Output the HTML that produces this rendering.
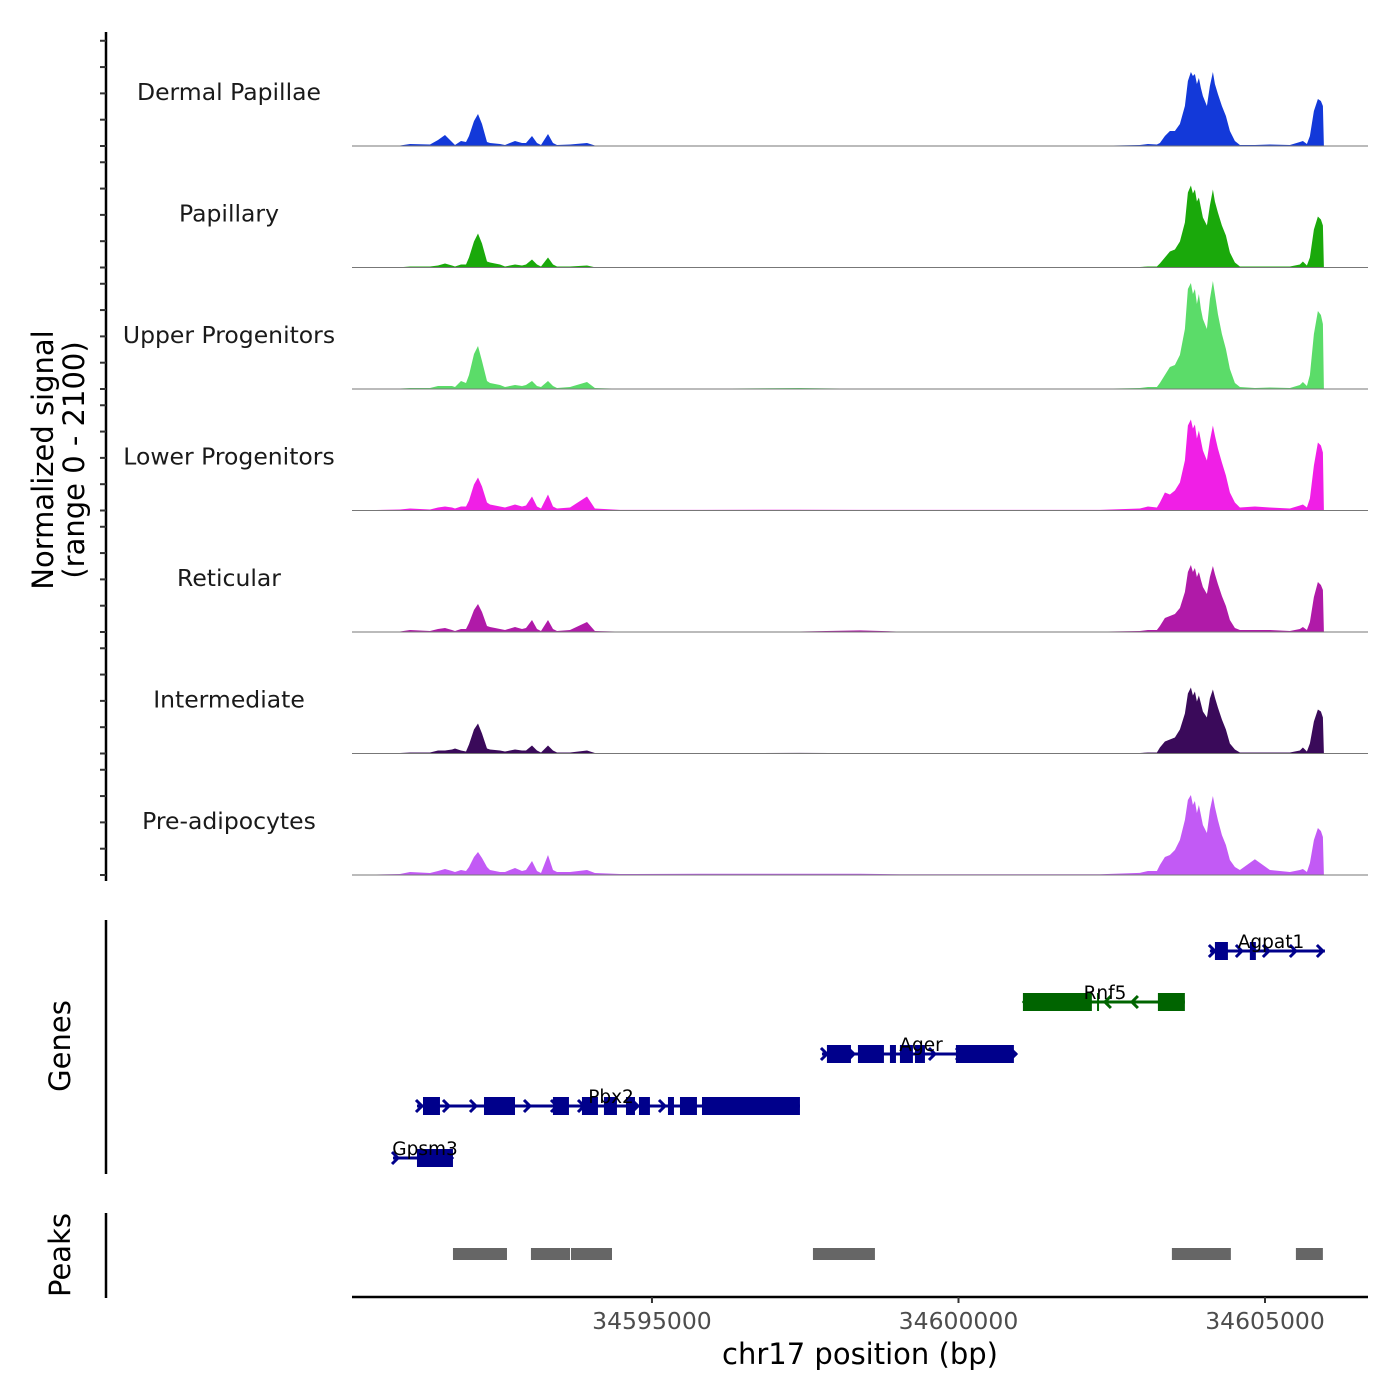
<!DOCTYPE html>
<html><head><meta charset="utf-8"><style>
html,body{margin:0;padding:0;background:#fff;}
svg{display:block;font-family:"DejaVu Sans","Liberation Sans",sans-serif;}
</style></head><body>
<svg id="chart" width="1400" height="1400" viewBox="0 0 1400 1400" xmlns="http://www.w3.org/2000/svg">
<g id="tracks"></g>
<g id="genes"></g>
<g id="peaks"></g>
<g id="axes"></g>
<text transform="translate(53,460) rotate(-90)" text-anchor="middle" font-size="29" fill="#000">Normalized signal</text>
<text transform="translate(84,460) rotate(-90)" text-anchor="middle" font-size="29" fill="#000">(range 0 - 2100)</text>
<text transform="translate(70,1046) rotate(-90)" text-anchor="middle" font-size="29" fill="#000">Genes</text>
<text transform="translate(70,1255) rotate(-90)" text-anchor="middle" font-size="29" fill="#000">Peaks</text>
<text x="860" y="1364" text-anchor="middle" font-size="29" fill="#000">chr17 position (bp)</text>
</svg>
<script>
const xDomain = [34590107, 34606680];
const xTicks = [34595000, 34600000, 34605000];
const yMax = 2100;
const yTicks = [0, 500, 1000, 1500, 2000];
const trackNames = ["Dermal Papillae","Papillary","Upper Progenitors","Lower Progenitors","Reticular","Intermediate","Pre-adipocytes"];
const trackColors = ["#1339d9","#1aa90b","#5bdc69","#f01fe6","#b01aa8","#3a0a5a","#c25af5"];
const positions = [34590107,34590890,34591053,34591379,34591510,34591624,34591738,34591787,34591885,34591966,
34592015,34592097,34592162,34592227,34592309,34592358,34592521,34592602,34592766,34592880,
34592945,34593043,34593124,34593190,34593304,34593385,34593451,34593663,34593940,34594070,
34594478,34595783,34597414,34598392,34599045,34600676,34602307,34602959,34603090,34603237,
34603285,34603367,34603449,34603530,34603612,34603693,34603742,34603791,34603824,34603856,
34603889,34603922,34603954,34603987,34604052,34604101,34604150,34604183,34604231,34604297,
34604362,34604427,34604509,34604590,34604835,34605080,34605406,34605569,34605618,34605683,
34605732,34605797,34605862,34605911,34605944,34605960];
const dermalPapillae = [0,10,38,29,114,209,76,19,95,76,190,475,608,418,76,57,38,19,95,57,57,190,57,19,228,57,19,29,57,10,6,6,10,6,6,6,6,19,38,29,57,190,285,285,418,760,1235,1406,1330,1368,1178,1292,1102,950,760,1140,1406,1178,988,760,570,285,95,19,19,29,19,76,95,38,190,665,893,855,760,0];
const papillary = [0,6,19,19,38,76,38,19,57,57,190,494,646,456,114,95,57,19,57,38,57,152,57,19,190,57,19,19,38,6,4,4,10,6,4,6,4,10,19,19,76,190,304,342,494,855,1425,1558,1406,1482,1254,1330,1140,950,798,1178,1482,1254,1045,798,608,285,95,19,19,19,19,57,114,38,190,722,969,912,798,0];
const upperProgenitors = [0,10,19,19,57,57,57,38,152,114,266,665,817,532,152,114,76,38,76,57,76,152,57,38,152,57,19,38,133,19,6,6,19,6,6,6,6,19,38,38,114,266,418,456,646,1140,1900,2014,1805,1900,1615,1805,1520,1330,1140,1710,2052,1805,1425,1045,760,380,114,38,19,29,19,76,133,57,266,1045,1482,1406,1235,0];
const lowerProgenitors = [0,19,38,19,57,76,57,38,76,76,190,494,627,456,152,114,76,57,114,76,95,266,76,38,304,76,38,57,266,38,12,12,15,12,12,12,12,38,76,57,152,342,304,380,532,950,1615,1729,1558,1634,1368,1520,1330,1140,950,1330,1615,1425,1178,912,665,342,152,57,76,57,38,95,114,57,228,855,1292,1235,1102,0];
const reticular = [0,10,38,19,57,76,38,19,57,57,171,418,532,380,114,95,57,38,95,57,76,228,57,19,228,57,19,38,190,19,8,8,10,30,8,8,8,19,38,38,114,266,304,342,456,760,1140,1273,1140,1216,1045,1140,988,855,722,1045,1254,1102,912,684,494,228,76,38,38,38,19,57,95,38,190,665,950,893,798,0];
const intermediate = [0,10,19,19,57,57,76,95,57,38,171,456,570,380,95,76,57,38,76,57,57,152,57,19,152,57,19,19,57,10,6,6,12,8,6,6,6,10,19,19,114,228,266,304,456,760,1140,1254,1102,1178,988,1102,950,798,684,1045,1216,1064,874,646,456,190,76,19,19,19,19,57,114,38,190,608,836,798,684,0];
const preAdipocytes = [0,19,57,38,76,114,76,57,95,76,152,342,437,323,152,95,57,57,133,76,95,266,76,38,380,95,57,57,95,38,19,22,25,22,15,15,15,40,76,76,190,342,380,475,665,1045,1425,1520,1330,1406,1178,1330,1140,950,798,1235,1501,1292,1045,760,570,285,152,95,300,95,57,95,114,57,228,665,893,836,722,0];
const trackValues = [dermalPapillae,papillary,upperProgenitors,lowerProgenitors,reticular,intermediate,preAdipocytes];

const geneNames = ["Agpat1","Rnf5","Ager","Pbx2","Gpsm3"];
const geneStarts = [34604101,34601051,34597773,34591167,34590776];
const geneEnds = [34605977,34603693,34600953,34597414,34591754];
const geneStrands = ["+","-","+","+","+"];
const geneExons = [
 [[34604183,34604395],[34604753,34604851]],
 [[34601051,34602176],[34602260,34602290],[34603253,34603693]],
 [[34597854,34598246],[34598360,34598784],[34598882,34598980],[34599045,34599257],[34599290,34599453],[34599958,34600904]],
 [[34591265,34591542],[34592260,34592766],[34593385,34593646],[34593858,34594119],[34594217,34594429],[34594576,34594723],[34594788,34594967],[34595261,34595359],[34595457,34595734],[34595816,34597414]],
 [[34591167,34591754]]
];
const peakStarts = [34591754,34593026,34593679,34597626,34603481,34605504];
const peakEnds = [34592635,34593663,34594348,34598637,34604443,34605944];

const NS="http://www.w3.org/2000/svg";
const X0=352,X1=1368;
function xs(bp){return X0+(bp-xDomain[0])/(xDomain[1]-xDomain[0])*(X1-X0);}
const base0=146, trackStep=121.5, trackH=110.5;
function ys(v,i){return base0+i*trackStep - v/yMax*trackH;}
function mk(tag,attrs,parent){const e=document.createElementNS(NS,tag);for(const k in attrs)e.setAttribute(k,attrs[k]);parent.appendChild(e);return e;}

const gT=document.getElementById('tracks');
trackValues.forEach((vals,i)=>{
  const b=base0+i*trackStep;
  let d="M"+xs(positions[0])+","+b;
  positions.forEach((p,j)=>{d+=" L"+xs(p).toFixed(1)+","+ys(vals[j],i).toFixed(1);});
  d+=" L"+xs(positions[positions.length-1]).toFixed(1)+","+b+" Z";
  const a=mk('path',{d:d,fill:trackColors[i],stroke:'none'},gT);
  
  
  const l=mk('line',{x1:X0,x2:X1,y1:b,y2:b,stroke:'#777',"stroke-width":1},gT);
  
  
  const t=mk('text',{x:229,y:b-46,"text-anchor":"middle","font-size":23.5,fill:'#1a1a1a'},gT);
  t.textContent=trackNames[i];
  
  
});

const gG=document.getElementById('genes');
const rowY=[951,1002,1054,1106,1158];
const lblX=[1271,1105,921,611,425];
geneNames.forEach((n,i)=>{
  const col=geneStrands[i]==='+'?'#00008b':'#006400';
  const y=rowY[i], xa=xs(geneStarts[i]), xb=xs(geneEnds[i]);
  const g=mk('g',{},gG);
  
  
  mk('line',{x1:xa,x2:xb,y1:y,y2:y,stroke:col,"stroke-width":3},g);
  for(let x=xa+3;x<=xb-2;x+=27){
    const dir=geneStrands[i]==='+'?1:-1;
    mk('polyline',{points:(x-4*dir)+","+(y-6)+" "+(x+2*dir)+","+y+" "+(x-4*dir)+","+(y+6),fill:'none',stroke:col,"stroke-width":3},g);
  }
  geneExons[i].forEach(e=>{
    const r=mk('rect',{x:xs(e[0]),y:y-9,width:Math.max(2,xs(e[1])-xs(e[0])),height:18,fill:col},g);
    
    
  });
  const t=mk('text',{x:lblX[i],y:y-3,"text-anchor":"middle","font-size":18.5,fill:'#000'},g);
  t.textContent=n;
  
  
});

const gP=document.getElementById('peaks');
peakStarts.forEach((s,i)=>{
  const r=mk('rect',{x:xs(s),y:1248,width:xs(peakEnds[i])-xs(s),height:12,fill:'#666'},gP);
  
  
});

const gA=document.getElementById('axes');
const al=mk('line',{x1:106,x2:106,y1:32,y2:881,stroke:'#000',"stroke-width":2.5},gA);


for(let i=0;i<trackValues.length;i++){
  yTicks.forEach(v=>{
    const y=ys(v,i);
    const tk=mk('line',{x1:100,x2:106,y1:y,y2:y,stroke:'#333',"stroke-width":2},gA);
    
    
  });
}
const ga=mk('line',{x1:106,x2:106,y1:920,y2:1174,stroke:'#000',"stroke-width":2.5},gA);


const pa=mk('line',{x1:106,x2:106,y1:1213,y2:1298,stroke:'#000',"stroke-width":2.5},gA);


const xa=mk('line',{x1:X0,x2:X1,y1:1297,y2:1297,stroke:'#000',"stroke-width":2.5},gA);


xTicks.forEach(v=>{
  const x=xs(v);
  const tk=mk('line',{x1:x,x2:x,y1:1297,y2:1303,stroke:'#333',"stroke-width":2},gA);
  
  
  const t=mk('text',{x:x,y:1329,"text-anchor":"middle","font-size":23.5,fill:'#4d4d4d'},gA);
  t.textContent=v;
  
  
});
</script>
</body></html>
